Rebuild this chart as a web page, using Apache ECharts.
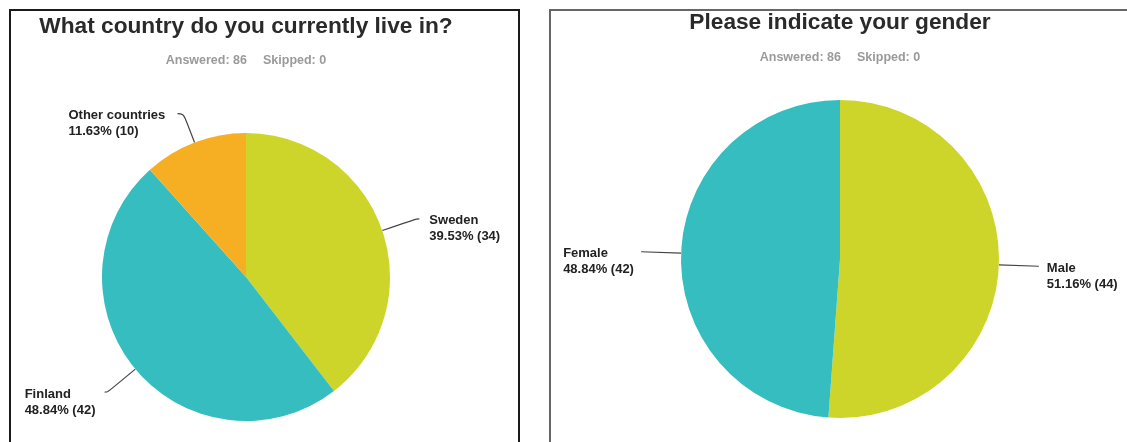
<!DOCTYPE html>
<html>
<head>
<meta charset="utf-8">
<script src="https://cdn.jsdelivr.net/npm/echarts@6/dist/echarts.min.js"></script>
<style>
html,body{margin:0;padding:0;background:#fff;}
#main{width:1127px;height:442px;}
</style>
</head>
<body>
<div id="main"></div>
<script>
// ---- data ----
const countryTitle = 'What country do you currently live in?';
const countryNames = ['Sweden', 'Finland', 'Other countries'];
const countryCounts = [34, 42, 10];
const countryPct = ['39.53%', '48.84%', '11.63%'];

const genderTitle = 'Please indicate your gender';
const genderNames = ['Male', 'Female'];
const genderCounts = [44, 42];
const genderPct = ['51.16%', '48.84%'];

const answeredText = 'Answered: 86';
const skippedText = 'Skipped: 0';

const countryColors = ['#CED52A', '#35BDC0', '#F6AF22'];
const genderColors = ['#CED52A', '#35BDC0'];

// label-line styling per slice (lengths in px, not data)
const countryLines = [
  { length: 36, length2: 3, dist: 10 },
  { length: 36, length2: 3, dist: 9 },
  { length: 31, length2: 6, dist: 12 }
];
const genderLines = [
  { length: 40, length2: 0, dist: 8 },
  { length: 40, length2: 0, dist: 7 }
];

const LABEL_FONT = 'bold 13px "Liberation Sans", Arial, sans-serif';

function measure(t) {
  const c = document.createElement('canvas').getContext('2d');
  c.font = LABEL_FONT;
  return Math.ceil(c.measureText(t).width);
}

function buildData(names, counts, pcts, colors, lines) {
  return names.map((n, i) => {
    const w = Math.max(measure(n), measure(pcts[i] + ' (' + counts[i] + ')'));
    return {
      name: n,
      value: counts[i],
      pct: pcts[i],
      itemStyle: { color: colors[i] },
      labelLine: { length: lines[i].length, length2: lines[i].length2 },
      label: {
        distanceToLabelLine: lines[i].dist,
        rich: {
          a: {
            fontFamily: '"Liberation Sans", Arial, sans-serif',
            fontWeight: 'bold',
            fontSize: 13,
            color: '#222',
            lineHeight: 16,
            width: w,
            align: 'left'
          }
        }
      }
    };
  });
}

const labelCfg = {
  show: true,
  position: 'outside',
  formatter: p => '{a|' + p.name + '}\n{a|' + p.data.pct + ' (' + p.value + ')}',
  padding: [20, 0, 0, 0]
};

const chart = echarts.init(document.getElementById('main'), null, { renderer: 'canvas' });

function subtitle(cx, y) {
  return [
    { type: 'text', x: cx + 1, y: y, style: { text: answeredText, align: 'right', verticalAlign: 'middle', font: 'bold 12.5px "Liberation Sans", Arial, sans-serif', fill: '#9a9a9a' } },
    { type: 'text', x: cx + 17, y: y, style: { text: skippedText, align: 'left', verticalAlign: 'middle', font: 'bold 12.5px "Liberation Sans", Arial, sans-serif', fill: '#9a9a9a' } }
  ];
}

const option = {
  animation: false,
  backgroundColor: '#fff',
  graphic: [
    { type: 'rect', shape: { x: 10, y: 10, width: 509, height: 500 }, style: { fill: 'none', stroke: '#1a1a1a', lineWidth: 2 } },
    { type: 'rect', shape: { x: 550, y: 10, width: 620, height: 500 }, style: { fill: 'none', stroke: '#666', lineWidth: 2 } },
    { type: 'text', x: 246, y: 27, style: { text: countryTitle, align: 'center', verticalAlign: 'middle', font: 'bold 22.7px "Liberation Sans", Arial, sans-serif', fill: '#2a2a2a' } },
    { type: 'text', x: 840, y: 23, style: { text: genderTitle, align: 'center', verticalAlign: 'middle', font: 'bold 22.7px "Liberation Sans", Arial, sans-serif', fill: '#2a2a2a' } }
  ].concat(subtitle(246, 61), subtitle(840, 58)),
  series: [
    {
      type: 'pie',
      center: [246, 277],
      radius: [0, 144],
      startAngle: 90,
      clockwise: true,
      avoidLabelOverlap: false,
      data: buildData(countryNames, countryCounts, countryPct, countryColors, countryLines),
      label: labelCfg,
      labelLine: { show: true, smooth: 0.4, lineStyle: { color: '#444', width: 1.2 } },
      emphasis: { disabled: true }
    },
    {
      type: 'pie',
      center: [840, 259],
      radius: [0, 159],
      startAngle: 90,
      clockwise: true,
      avoidLabelOverlap: false,
      data: buildData(genderNames, genderCounts, genderPct, genderColors, genderLines),
      label: labelCfg,
      labelLine: { show: true, smooth: false, lineStyle: { color: '#444', width: 1.2 } },
      emphasis: { disabled: true }
    }
  ]
};

chart.setOption(option);
</script>
</body>
</html>
